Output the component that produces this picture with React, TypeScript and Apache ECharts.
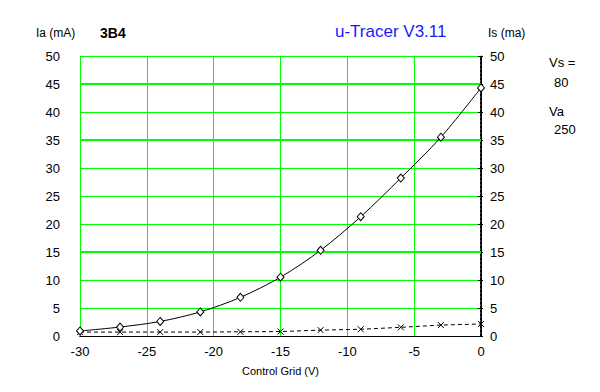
import React, { useEffect, useRef } from "react";
import * as echarts from "echarts";

const gridVolts = [-30, -27, -24, -21, -18, -15, -12, -9, -6, -3, 0];
const anodeCurrent = [0.9, 1.6, 2.6, 4.3, 6.9, 10.5, 15.3, 21.3, 28.2, 35.5, 44.3];
const screenCurrent = [0.7, 0.7, 0.7, 0.7, 0.75, 0.8, 1.05, 1.2, 1.55, 1.95, 2.15];
const thickGridY = [45, 35, 15];

const FONT = "'Liberation Sans', Arial, sans-serif";

export default function App() {
  const ref = useRef<HTMLDivElement>(null);
  useEffect(() => {
    if (!ref.current) return;
    const chart = echarts.init(ref.current, undefined, { renderer: "svg" });
    const green = "#00ff00";
    chart.setOption({
      animation: false,
      backgroundColor: "#ffffff",
      textStyle: { fontFamily: FONT },
      grid: { left: 80, right: 119, top: 56, bottom: 56, containLabel: false },
      xAxis: [
        {
          type: "value",
          min: -30,
          max: 0,
          interval: 5,
          position: "bottom",
          name: "Control Grid (V)",
          nameLocation: "middle",
          nameGap: 29,
          nameTextStyle: { color: "#000", fontSize: 11, fontFamily: FONT },
          axisLine: { lineStyle: { color: "#000", width: 1 } },
          axisTick: { show: false },
          axisLabel: { color: "#000", fontSize: 13, margin: 9, fontFamily: FONT },
          splitLine: { show: true, lineStyle: { color: green, width: 1 } },
        },
        {
          type: "value",
          min: -30,
          max: 0,
          position: "top",
          axisLine: { show: true, lineStyle: { color: "#000", width: 1 } },
          axisTick: { show: false },
          axisLabel: { show: false },
          splitLine: { show: false },
        },
      ],
      yAxis: [
        {
          type: "value",
          min: 0,
          max: 50,
          interval: 5,
          position: "left",
          axisLine: { show: true, lineStyle: { color: "#000", width: 1 } },
          axisTick: { show: true, length: 3, lineStyle: { color: "#000" } },
          axisLabel: { color: "#000", fontSize: 13, margin: 20, fontFamily: FONT },
          splitLine: { show: true, lineStyle: { color: green, width: 1 } },
        },
        {
          type: "value",
          min: 0,
          max: 50,
          interval: 5,
          position: "right",
          axisLine: { show: true, lineStyle: { color: "#000", width: 2, type: "dotted" } },
          axisTick: { show: true, length: 2, lineStyle: { color: "#000" } },
          axisLabel: { color: "#000", fontSize: 13, margin: 9, fontFamily: FONT },
          splitLine: { show: false },
        },
      ],
      series: [
        {
          type: "line",
          data: gridVolts.map((v, i) => [v, anodeCurrent[i]]),
          smooth: 0.3,
          symbol: "diamond",
          symbolSize: [7, 8],
          lineStyle: { color: "#000", width: 1 },
          itemStyle: { color: "#fff", borderColor: "#000", borderWidth: 1 },
          z: 5,
          markLine: {
            silent: true,
            symbol: "none",
            label: { show: false },
            lineStyle: { color: green, width: 2, type: "solid" },
            data: thickGridY.map((y) => ({ yAxis: y })),
            z: 1,
          },
        },
        {
          type: "line",
          data: gridVolts.map((v, i) => [v, screenCurrent[i]]),
          symbol: "path://M0,0L10,10M10,0L0,10",
          symbolSize: 6,
          lineStyle: { color: "#000", width: 1, type: [4, 3] },
          itemStyle: { color: "none", borderColor: "#000", borderWidth: 1 },
          z: 4,
        },
      ],
      graphic: [
        { type: "text", left: 36, top: 27, style: { text: "Ia (mA)", fontSize: 12, fontFamily: FONT, fill: "#000" } },
        { type: "text", left: 100, top: 26, style: { text: "3B4", fontSize: 14, fontWeight: "bold", fontFamily: FONT, fill: "#000" } },
        { type: "text", left: 335, top: 23, style: { text: "u-Tracer V3.11", fontSize: 17, fontFamily: FONT, fill: "#1a1aff" } },
        { type: "text", left: 488, top: 27, style: { text: "Is (ma)", fontSize: 12, fontFamily: FONT, fill: "#000" } },
        { type: "text", left: 549, top: 56, style: { text: "Vs =", fontSize: 13, fontFamily: FONT, fill: "#000" } },
        { type: "text", left: 554, top: 76, style: { text: "80", fontSize: 13, fontFamily: FONT, fill: "#000" } },
        { type: "text", left: 549, top: 105, style: { text: "Va", fontSize: 13, fontFamily: FONT, fill: "#000" } },
        { type: "text", left: 554, top: 123, style: { text: "250", fontSize: 13, fontFamily: FONT, fill: "#000" } },
      ],
    });
    return () => chart.dispose();
  }, []);
  return <div ref={ref} style={{ width: 600, height: 392, position: "absolute", left: 0, top: 0 }} />;
}
